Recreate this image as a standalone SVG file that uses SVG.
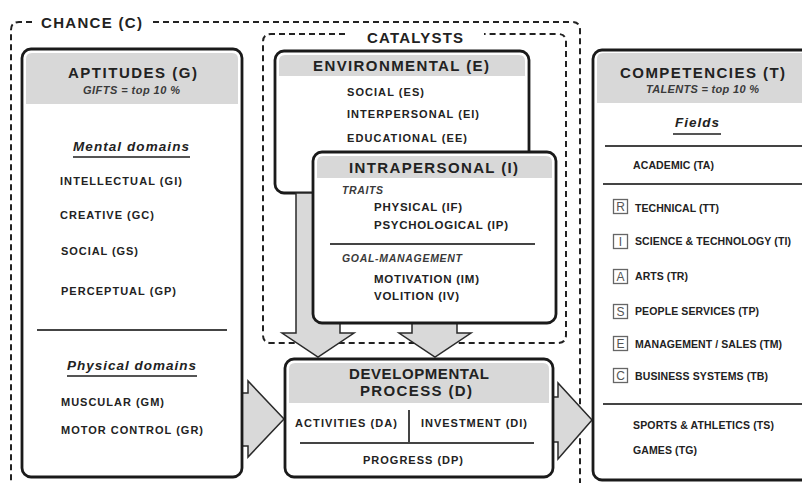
<svg xmlns="http://www.w3.org/2000/svg" width="802" height="483" viewBox="0 0 802 483">
<style>
text{font-family:"Liberation Sans",Arial,sans-serif;font-weight:bold;fill:#222}
.t{font-size:15px}
.i{font-size:11px}
.c{font-size:10.5px}
.it{font-style:italic}
.sub{font-size:11px;font-style:italic;fill:#3a3a3a}
.dom{font-size:13.5px;font-style:italic}
.box{fill:#fff;stroke:#1a1a1a;stroke-width:2.8}
.hdr{fill:#d8d8d8}
.dash{fill:none;stroke:#222;stroke-width:2;stroke-dasharray:6 4}
.arr{fill:#d9d9d9;stroke:#2a2a2a;stroke-width:1.5;stroke-linejoin:miter}
.ln{stroke:#444;stroke-width:2;fill:none}
.ul{stroke:#555;stroke-width:1.8;fill:none}
.lb{fill:#fff;stroke:#666;stroke-width:1.3}
.lt{font-family:"Liberation Sans",Arial,sans-serif;font-weight:normal;font-size:12px;fill:#555}
</style>
<rect width="802" height="483" fill="#fff"/>

<g id="chance">
<path class="dash" d="M32 22 H19 Q11 22 11 30 V483"/>
<path class="dash" d="M153 22 H572 Q580 22 580 30 V483"/>
<text class="t" x="41" y="28" textLength="101">CHANCE (C)</text>
</g>

<g id="catalysts">
<path class="dash" d="M345 34 H271 Q263 34 263 42 V335 Q263 343 271 343 H558 Q566 343 566 335 V42 Q566 34 558 34 H484"/>
<text class="t" x="367" y="43" textLength="96">CATALYSTS</text>
</g>

<g id="environmental">
<rect class="box" x="275" y="51" width="254" height="142" rx="9"/>
<path class="hdr" d="M285 55 H519 Q525 55 525 61 V76 H279 V61 Q279 55 285 55 Z"/>
<text class="t" x="313" y="71" textLength="176">ENVIRONMENTAL (E)</text>
<text class="i" x="347" y="96" textLength="77">SOCIAL (ES)</text>
<text class="i" x="347" y="118" textLength="132">INTERPERSONAL (EI)</text>
<text class="i" x="347" y="142" textLength="120">EDUCATIONAL (EE)</text>
</g>

<g id="connectors">
<polygon class="arr" points="296,193 340,193 340,333 354,333 318,357 282,333 296,333"/>
<polygon class="arr" points="412,323 457,323 457,333 471,333 435,357 399,333 412,333"/>
<polygon class="arr" points="238,393 248,393 248,381 284,419 248,457 248,446 238,446"/>
<polygon class="arr" points="551,397 558,397 558,383 592,420 558,459 558,442 551,442"/>
</g>

<g id="intrapersonal">
<rect class="box" x="313" y="152" width="243" height="171" rx="9"/>
<path class="hdr" d="M323 156 H546 Q552 156 552 162 V178 H317 V162 Q317 156 323 156 Z"/>
<text class="t" x="349" y="173" textLength="169">INTRAPERSONAL (I)</text>
<text class="i it" x="342" y="194" textLength="41" style="fill:#3a3a3a;font-size:10.5px">TRAITS</text>
<text class="i" x="374" y="211" textLength="88" style="font-size:11.5px">PHYSICAL (IF)</text>
<text class="i" x="374" y="229" textLength="134" style="font-size:11.5px">PSYCHOLOGICAL (IP)</text>
<line class="ln" x1="330" y1="244" x2="535" y2="244"/>
<text class="i it" x="342" y="262" textLength="120" style="fill:#3a3a3a;font-size:10.5px">GOAL-MANAGEMENT</text>
<text class="i" x="374" y="283" textLength="105" style="font-size:11.5px">MOTIVATION (IM)</text>
<text class="i" x="374" y="300" textLength="85" style="font-size:11.5px">VOLITION (IV)</text>
</g>

<g id="developmental">
<rect class="box" x="285" y="359" width="268" height="118" rx="9"/>
<path class="hdr" d="M295 363 H543 Q549 363 549 369 V403 H289 V369 Q289 363 295 363 Z"/>
<text class="t" x="349" y="379" textLength="140">DEVELOPMENTAL</text>
<text class="t" x="360" y="396" textLength="112">PROCESS (D)</text>
<text class="i" x="295" y="427" textLength="102">ACTIVITIES (DA)</text>
<text class="i" x="421" y="427" textLength="106">INVESTMENT (DI)</text>
<line class="ln" x1="409" y1="410" x2="409" y2="443"/>
<line class="ln" x1="300" y1="443" x2="534" y2="443"/>
<text class="i" x="363" y="464" textLength="100">PROGRESS (DP)</text>
</g>

<g id="aptitudes">
<rect class="box" x="22" y="49" width="220" height="428" rx="9"/>
<path class="hdr" d="M32 53 H232 Q238 53 238 59 V104 H26 V59 Q26 53 32 53 Z"/>
<text class="t" x="68" y="78" textLength="129">APTITUDES (G)</text>
<text class="sub" x="83" y="94" textLength="97">GIFTS = top 10 %</text>
<text class="dom" x="73" y="151" textLength="116">Mental domains</text>
<line class="ul" x1="73" y1="157" x2="190" y2="157"/>
<text class="i" x="60" y="185" textLength="122">INTELLECTUAL (GI)</text>
<text class="i" x="60" y="219" textLength="94">CREATIVE (GC)</text>
<text class="i" x="61" y="255" textLength="77">SOCIAL (GS)</text>
<text class="i" x="61" y="295" textLength="115">PERCEPTUAL (GP)</text>
<line class="ln" x1="37" y1="330" x2="227" y2="330"/>
<text class="dom" x="67" y="370" textLength="129">Physical domains</text>
<line class="ul" x1="67" y1="376" x2="197" y2="376"/>
<text class="i" x="61" y="406" textLength="103">MUSCULAR (GM)</text>
<text class="i" x="61" y="434" textLength="142">MOTOR CONTROL (GR)</text>
</g>

<g id="competencies">
<rect class="box" x="593" y="50" width="240" height="430" rx="9"/>
<path class="hdr" d="M603 53 H830 V103 H597 V59 Q597 53 603 53 Z"/>
<text class="t" x="620" y="78" textLength="165">COMPETENCIES (T)</text>
<text class="sub" x="646" y="93" textLength="113">TALENTS = top 10 %</text>
<text class="dom" x="675" y="127" textLength="44">Fields</text>
<line class="ul" x1="673" y1="134" x2="721" y2="134"/>
<line class="ln" x1="605" y1="146" x2="802" y2="146"/>
<text class="c" x="633" y="169" textLength="81">ACADEMIC (TA)</text>
<line class="ln" x1="603" y1="184" x2="802" y2="184"/>
<rect class="lb" x="613.5" y="199.5" width="14" height="14"/>
<text class="lt" x="620.5" y="211" text-anchor="middle">R</text>
<text class="c" x="635" y="212" textLength="84">TECHNICAL (TT)</text>
<rect class="lb" x="613.5" y="234.5" width="14" height="14"/>
<text class="lt" x="620.5" y="246" text-anchor="middle">I</text>
<text class="c" x="635" y="245" textLength="156">SCIENCE &amp; TECHNOLOGY (TI)</text>
<rect class="lb" x="613.5" y="269.5" width="14" height="14"/>
<text class="lt" x="620.5" y="281" text-anchor="middle">A</text>
<text class="c" x="635" y="280" textLength="53">ARTS (TR)</text>
<rect class="lb" x="613.5" y="304.5" width="14" height="14"/>
<text class="lt" x="620.5" y="316" text-anchor="middle">S</text>
<text class="c" x="635" y="315" textLength="124">PEOPLE SERVICES (TP)</text>
<rect class="lb" x="613.5" y="336.5" width="14" height="14"/>
<text class="lt" x="620.5" y="348" text-anchor="middle">E</text>
<text class="c" x="635" y="348" textLength="147">MANAGEMENT / SALES (TM)</text>
<rect class="lb" x="613.5" y="368.5" width="14" height="14"/>
<text class="lt" x="620.5" y="380" text-anchor="middle">C</text>
<text class="c" x="635" y="380" textLength="133">BUSINESS SYSTEMS (TB)</text>
<line class="ln" x1="603" y1="404" x2="802" y2="404"/>
<text class="c" x="633" y="429" textLength="141">SPORTS &amp; ATHLETICS (TS)</text>
<text class="c" x="633" y="454" textLength="64">GAMES (TG)</text>
</g>
</svg>
